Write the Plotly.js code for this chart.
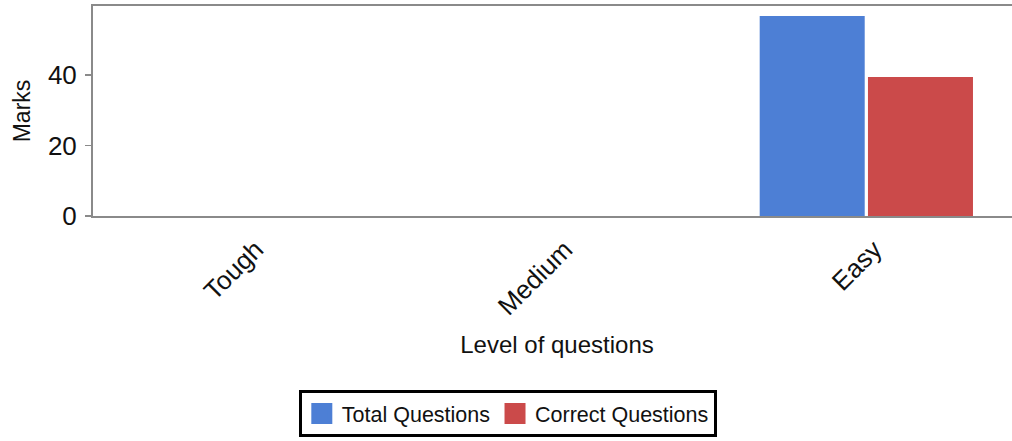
<!DOCTYPE html>
<html>
<head>
<meta charset="utf-8">
<script src="https://cdn.plot.ly/plotly-3.0.1.min.js"></script>
<style>
html, body { margin: 0; padding: 0; overflow: hidden; background: #fff; }
#chart { width: 1040px; height: 441px; }
</style>
</head>
<body>
<div id="chart"></div>
<script>
const categories = ["Tough", "Medium", "Easy"];
const totalQuestions = [0, 0, 56.7];
const correctQuestions = [0, 0, 39.4];
const seriesNames = ["Total Questions", "Correct Questions"];
const seriesColors = ["#4d7fd5", "#cb4a4a"];
const xTitle = "Level of questions";
const yTitle = "Marks";

const FONT = "Arial, 'Liberation Sans', sans-serif";

const traces = [
  { type: "bar", x: categories, y: totalQuestions, name: seriesNames[0],
    marker: { color: seriesColors[0] }, showlegend: false, hoverinfo: "x+y+name" },
  { type: "bar", x: categories, y: correctQuestions, name: seriesNames[1],
    marker: { color: seriesColors[1] }, showlegend: false, hoverinfo: "x+y+name" },
  // legend entries (no data points) with larger square swatches
  { type: "scatter", mode: "markers", x: [null], y: [null], name: seriesNames[0],
    marker: { symbol: "square", size: 16, color: seriesColors[0], line: { width: 5, color: seriesColors[0] } },
    showlegend: true, hoverinfo: "skip" },
  { type: "scatter", mode: "markers", x: [null], y: [null], name: seriesNames[1],
    marker: { symbol: "square", size: 16, color: seriesColors[1], line: { width: 5, color: seriesColors[1] } },
    showlegend: true, hoverinfo: "skip" }
];

const layout = {
  width: 1040, height: 441,
  margin: { l: 93, r: 19, t: 6, b: 224 },
  paper_bgcolor: "#fff", plot_bgcolor: "#fff",
  font: { family: FONT, color: "#222" },
  barmode: "group", bargap: 0.3, bargroupgap: 0.03,
  showlegend: true,
  xaxis: {
    type: "category",
    tickangle: -45,
    tickfont: { size: 26, color: "#111" },
    ticklabelstandoff: 6,
    ticklabelshift: 8,
    showline: true, linecolor: "#8a8a8a", linewidth: 2, mirror: true,
    showgrid: false, zeroline: false, ticks: "",
    title: { text: xTitle, font: { size: 24, color: "#111" }, standoff: 16 }
  },
  yaxis: {
    range: [0, 59.5],
    tickvals: [0, 20, 40],
    tickfont: { size: 26, color: "#111" },
    ticklabelstandoff: 3,
    showline: true, linecolor: "#8a8a8a", linewidth: 2,
    ticks: "outside", ticklen: 6, tickcolor: "#8a8a8a", tickwidth: 1.5,
    showgrid: false, zeroline: false,
    title: { text: yTitle, font: { size: 23, color: "#111" }, standoff: 11 }
  },
  legend: {
    orientation: "h",
    x: 0.447, xanchor: "center",
    y: -0.82, yanchor: "top",
    bgcolor: "#fff", bordercolor: "#000", borderwidth: 3,
    font: { size: 21.5, color: "#111" }
  }
};

Plotly.newPlot("chart", traces, layout, { displayModeBar: false, staticPlot: true });
</script>
</body>
</html>
